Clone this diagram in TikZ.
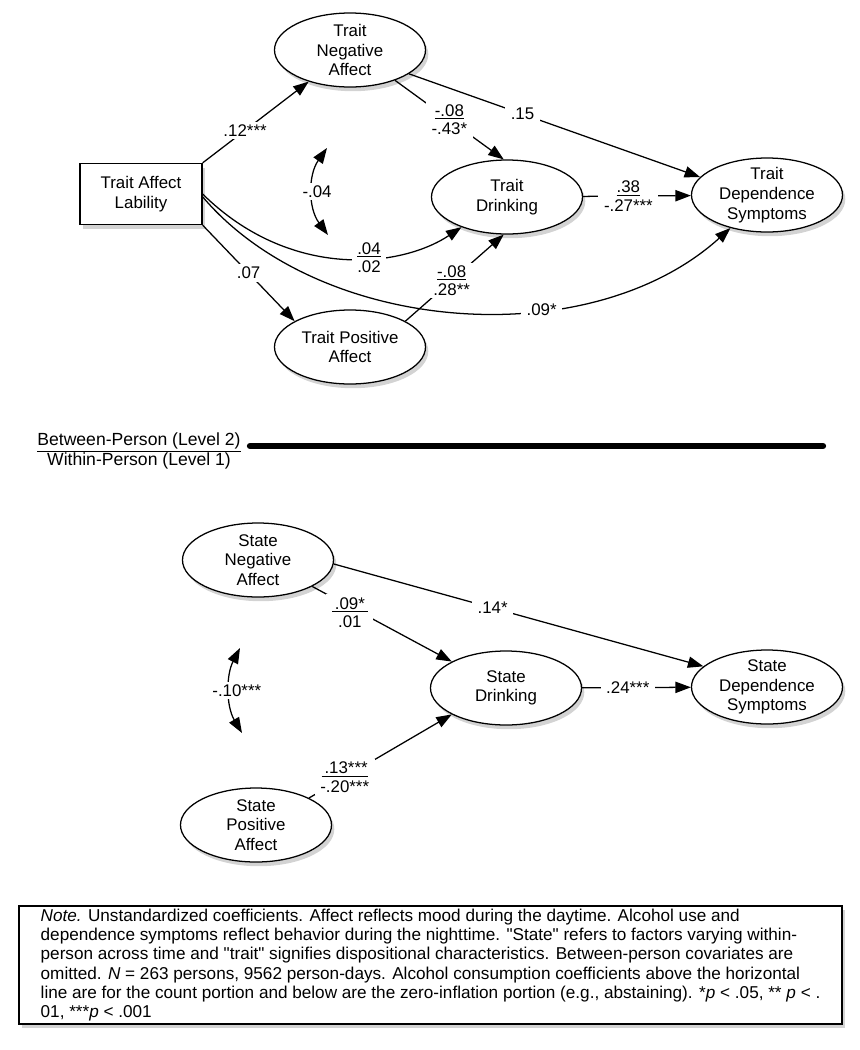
\documentclass[tikz,border=0pt]{standalone}
\usepackage{fontspec}
\setmainfont{Liberation Sans}
\newfontfamily\notefont{Liberation Sans}
\usetikzlibrary{positioning,shapes.geometric,arrows.meta,shadows}

\tikzset{
  latent/.style = {draw, ellipse, line width=0.9pt, fill=white, minimum width=37.75mm, minimum height=18.5mm, inner xsep=0pt, inner ysep=-6pt, align=center, font=\fontsize{12}{14}\selectfont, drop shadow={opacity=0.35, shadow xshift=2pt, shadow yshift=-3pt}},
  observed/.style = {draw, rectangle, line width=0.9pt, fill=white, minimum width=30.5mm, minimum height=15.25mm, align=center, font=\fontsize{12}{14}\selectfont, drop shadow={opacity=0.35, shadow xshift=2pt, shadow yshift=-3pt}},
  regr/.style = {line width=0.9pt, -{Triangle[length=11pt,width=8pt]}},
  cov/.style = {line width=0.9pt, {Triangle[length=11pt,width=8pt]}-{Triangle[length=11pt,width=8pt]}},
  coef/.style = {fill=white, inner xsep=4pt, inner ysep=2pt, align=center, font=\fontsize{12}{13}\selectfont}
}

\begin{document}
\begin{tikzpicture}[x=0.25mm, y=-0.25mm]
\useasboundingbox (0,0) rectangle (859,1050);

% between-person part
\node[latent] (tna) at (350,50) {Trait\\Negative\\Affect};
\node[observed] (lab) at (141,194) {Trait Affect\\Lability};
\node[latent] (tpa) at (350,347) {Trait Positive\\Affect};
\node[latent] (td) at (507,197) {Trait\\Drinking};
\node[latent] (tds) at (767,195) {Trait\\Dependence\\Symptoms};

\draw[regr] (lab.north east) -- (tna) node[coef, pos=0.4] (c1) {.12***};
\draw[regr] (lab.south east) -- (tpa.155) node[coef, pos=0.5] (c2) {.07};
\draw[regr] (tna.-22) -- (tds.165) node[coef, pos=0.39] (c3) {.15};
\draw[regr] (tna.-34) -- (td.95) node[coef, pos=0.5] (c4) {\underline{-.08}\\-.43*};
\draw[regr] (lab.east) .. controls (290,280) and (400,268) .. (td) node[coef, pos=0.6] (c5) {\underline{.04}\\.02};
\draw[regr] (tpa.25) -- (td.265) node[coef, pos=0.47] (c6) {\underline{-.08}\\.28**};
\draw[regr] (td) -- (tds) node[coef, pos=0.42] (c7) {\underline{.38}\\-.27***};
\draw[regr] ([yshift=-2pt]lab.east) .. controls (320,335) and (590,355) .. (tds) node[coef, pos=0.64] (c8) {.09*};

\coordinate (tcovA) at (327,148);
\coordinate (tcovB) at (328,235);
\draw[cov] (tcovA) .. controls (308,175) and (308,208) .. (tcovB) node[coef, pos=0.5, xshift=3pt] (c0) {-.04};

% level divider
\node[font=\fontsize{12.5}{13.5}\selectfont, align=center] (div) at (139,451) {\underline{Between-Person (Level 2)}\\Within-Person (Level 1)};
\coordinate (lvlL) at (250,446);
\coordinate (lvlR) at (823,446);
\draw[line width=4.5pt, line cap=round] (lvlL) -- (lvlR);

% within-person part
\node[latent] (sna) at (258,560) {State\\Negative\\Affect};
\node[latent] (spa) at (256,825) {State\\Positive\\Affect};
\node[latent] (sd) at (506,688) {State\\Drinking};
\node[latent] (sds) at (767,687) {State\\Dependence\\Symptoms};

\draw[regr] (sna.-3) -- (sds.162) node[coef, pos=0.43] (c9) {.14*};
\draw[regr] (sna.-26) -- (sd.154) node[coef, pos=0.27, yshift=-4pt] (c10) {\underline{\,.09*\,}\\.01};
\draw[regr] (spa.27) -- (sd.206) node[coef, pos=0.25] (c11) {\underline{\,.13***}\\-.20***};
\draw[regr] (sd) -- (sds) node[coef, pos=0.42] (c12) {.24***};

\coordinate (scovA) at (240,648);
\coordinate (scovB) at (242,733);
\draw[cov] (scovA) .. controls (226,675) and (226,706) .. (scovB) node[coef, pos=0.5, xshift=5pt] (c13) {-.10***};

% note
\node[draw, line width=1pt, fill=white, minimum width=205.75mm, minimum height=29.5mm, inner ysep=1.5pt, align=left, font=\notefont\fontsize{12.2}{13.6}\selectfont, drop shadow={opacity=0.35, shadow xshift=2pt, shadow yshift=-3pt}] (note) at (430.5,965) {%
\textit{Note.} Unstandardized coefficients. Affect reflects mood during the daytime. Alcohol use and\\
dependence symptoms reflect behavior during the nighttime. "State" refers to factors varying within-\\
person across time and "trait" signifies dispositional characteristics. Between-person covariates are\\
omitted. \textit{N} = 263 persons, 9562 person-days. Alcohol consumption coefficients above the horizontal\\
line are for the count portion and below are the zero-inflation portion (e.g., abstaining). *\textit{p} < .05, ** \textit{p} < .\\
01, ***\textit{p} < .001};
\end{tikzpicture}
\end{document}
